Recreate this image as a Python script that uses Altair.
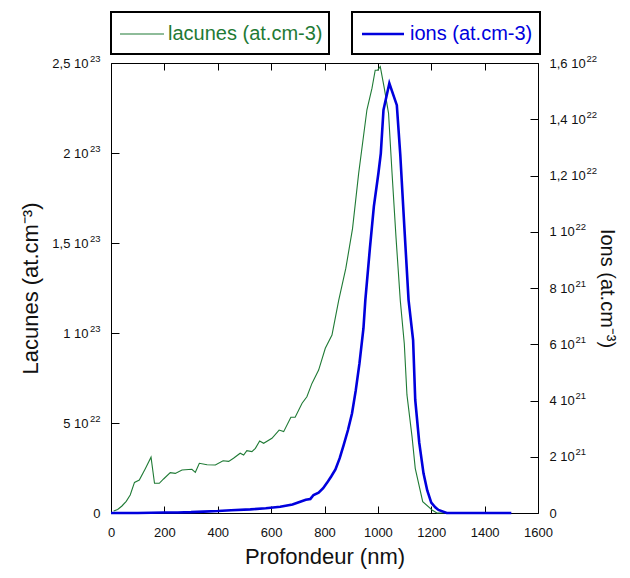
import altair as alt
import pandas as pd

# ---- data ----
# Lacunes (vacancies), unit 1e22 at/cm3
lac_x = [10, 25, 41, 57, 72, 88, 106, 128, 150, 163, 181, 197, 222, 241, 266, 303, 316, 331,
         360, 391, 420, 441, 459, 484, 497, 509, 528, 541, 557, 572, 603, 630, 647, 674, 690,
         716, 734, 753, 778, 803, 828, 853, 880, 905, 928, 959, 978, 990, 999, 1009, 1024,
         1040, 1053, 1068, 1084, 1099, 1109, 1128, 1140, 1168, 1203, 1221, 1250]
lac_v = [0.11, 0.2, 0.39, 0.65, 1.0, 1.7, 1.83, 2.45, 3.1, 1.65, 1.65, 1.89, 2.24, 2.2, 2.39,
         2.43, 2.26, 2.76, 2.68, 2.67, 2.9, 2.87, 3.04, 3.32, 3.22, 3.46, 3.41, 3.59, 4.0, 3.87,
         4.15, 4.61, 4.52, 5.32, 5.32, 6.1, 6.46, 7.2, 7.94, 9.15, 9.89, 11.8, 13.6, 15.8, 18.87,
         22.4, 23.6, 24.6, 24.6, 24.8, 23.6, 22.2, 18.9, 15.3, 11.8, 9.4, 6.56, 4.24, 2.48, 0.63,
         0.17, 0.0, 0.0]

# Ions, unit 1e21 at/cm3
ion_x = [0, 50, 100, 150, 200, 250, 300, 347, 400, 450, 522, 580, 634, 680, 709, 730, 747, 759,
         778, 795, 810, 825, 841, 857, 872, 888, 903, 917, 931, 946, 953, 970, 985, 1002, 1011,
         1021, 1043, 1071, 1084, 1099, 1115, 1132, 1140, 1155, 1171, 1185, 1200, 1215, 1227,
         1258, 1300, 1400, 1500]
ion_v = [0, 0, 0, 0.01, 0.02, 0.02, 0.03, 0.05, 0.07, 0.1, 0.13, 0.17, 0.22, 0.3, 0.4, 0.47,
         0.5, 0.64, 0.72, 0.88, 1.08, 1.3, 1.55, 1.95, 2.42, 2.95, 3.54, 4.35, 5.32, 6.57, 7.57,
         9.4, 10.9, 12.08, 12.79, 14.33, 15.28, 14.5, 12.73, 10.2, 7.57, 6.15, 4.02, 2.5, 1.41,
         0.8, 0.37, 0.2, 0.11, 0, 0, 0, 0]

x_ticks = [0, 200, 400, 600, 800, 1000, 1200, 1400, 1600]

left_ticks = [0, 5, 10, 15, 20, 25]
left_base = ["", "5 10", "1 10", "1,5 10", "2 10", "2,5 10"]
left_exps = ["0", "22", "23", "23", "23", "23"]

right_ticks = [0, 2, 4, 6, 8, 10, 12, 14, 16]
right_base = ["0", "2 10", "4 10", "6 10", "8 10", "1 10", "1,2 10", "1,4 10", "1,6 10"]
right_exps = ["", "21", "21", "21", "21", "22", "22", "22", "22"]
right_short = [2, 4, 6, 8, 10]   # ticks whose label mantissa has one digit
right_long = [12, 14, 16]        # ticks whose label mantissa is "1,x"

legend_names = ["lacunes (at.cm-3)", "ions (at.cm-3)"]

# ---- style ----
W, H = 427, 450
GREEN = "#1f7a35"
BLUE = "#0000dd"
FONT = "Liberation Sans"
TK = 8
LFS = 13     # tick label size
EFS = 9.5    # exponent size


def label_expr(labels, step):
    arr = "[" + ",".join("'" + s + "'" for s in labels) + "]"
    return f"{arr}[round(datum.value/{step})]"


xscale = alt.Scale(domain=[0, 1600], nice=False, zero=False)
lscale = alt.Scale(domain=[0, 25], nice=False)
rscale = alt.Scale(domain=[0, 16], nice=False)

df_l = pd.DataFrame({"x": lac_x, "v": lac_v})
df_i = pd.DataFrame({"x": ion_x, "v": ion_v})

green = alt.Chart(df_l).mark_line(color=GREEN, strokeWidth=1.1).encode(
    x=alt.X("x:Q", scale=xscale,
            axis=alt.Axis(orient="bottom", values=x_ticks, format="d", title="Profondeur (nm)",
                          offset=-7, tickSize=7, labelPadding=13, titlePadding=7,
                          labelFlush=False, labelOverlap=False)),
    y=alt.Y("v:Q", scale=lscale,
            axis=alt.Axis(orient="left", values=left_ticks, labelExpr=label_expr(left_base, 5),
                          title="Lacunes (at.cm\u207b\u00b3)", offset=-TK, tickSize=TK,
                          labelPadding=23, titlePadding=9, labelFlush=False, labelOverlap=False)),
)

blue = alt.Chart(df_i).mark_line(color=BLUE, strokeWidth=2.6).encode(
    x=alt.X("x:Q", scale=xscale,
            axis=alt.Axis(orient="top", values=x_ticks, title=None, labels=False,
                          offset=-7, tickSize=7)),
    y=alt.Y("v:Q", scale=rscale,
            axis=alt.Axis(orient="right", values=right_ticks, labelExpr=label_expr(right_base, 2),
                          title="Ions (at.cm\u207b\u00b3)", titleFontSize=20, offset=-TK, tickSize=TK,
                          labelPadding=11, titlePadding=11, labelFlush=False, labelOverlap=False)),
)

# exponent ("superscript") label axes
left_exp = alt.Chart(pd.DataFrame({"v": left_ticks})).mark_point(opacity=0).encode(
    y=alt.Y("v:Q", scale=lscale,
            axis=alt.Axis(orient="left", values=left_ticks, labelExpr=label_expr(left_exps, 5),
                          title=None, offset=-TK, tickSize=TK, tickOpacity=0, labelPadding=11,
                          labelFontSize={"condition": {"test": "datum.value === 0", "value": LFS},
                                         "value": EFS},
                          labelBaseline={"condition": {"test": "datum.value === 0", "value": "middle"},
                                         "value": "bottom"},
                          labelFlush=False, labelOverlap=False)),
)
right_exp_s = alt.Chart(pd.DataFrame({"v": right_short})).mark_point(opacity=0).encode(
    y=alt.Y("v:Q", scale=rscale,
            axis=alt.Axis(orient="right", values=right_short, labelExpr=label_expr(right_exps, 2),
                          title=None, offset=-TK, tickSize=TK, tickOpacity=0, labelPadding=37,
                          labelFontSize=EFS, labelBaseline="bottom",
                          labelFlush=False, labelOverlap=False)),
)
right_exp_l = alt.Chart(pd.DataFrame({"v": right_long})).mark_point(opacity=0).encode(
    y=alt.Y("v:Q", scale=rscale,
            axis=alt.Axis(orient="right", values=right_long, labelExpr=label_expr(right_exps, 2),
                          title=None, offset=-TK, tickSize=TK, tickOpacity=0, labelPadding=48,
                          labelFontSize=EFS, labelBaseline="bottom",
                          labelFlush=False, labelOverlap=False)),
)


def legend_item(i, x0, x1, lx0, lx1, tx, color, sw):
    d = pd.DataFrame({"name": [legend_names[i]]})
    box = alt.Chart(d).mark_rect(fillOpacity=0, stroke="black", strokeWidth=2).encode(
        x=alt.value(x0), x2=alt.value(x1), y=alt.value(-51), y2=alt.value(-9))
    line = alt.Chart(d).mark_rule(color=color, strokeWidth=sw).encode(
        x=alt.value(lx0), x2=alt.value(lx1), y=alt.value(-29))
    txt = alt.Chart(d).mark_text(align="left", baseline="middle", fontSize=20, font=FONT,
                                 color=color).encode(
        x=alt.value(tx), y=alt.value(-29), text="name:N")
    return [box, line, txt]


leg = legend_item(0, 0, 218, 9, 53, 57, GREEN, 1.2) + legend_item(1, 241, 429, 251, 293, 299, BLUE, 2.6)

chart = alt.layer(green, blue, left_exp, right_exp_s, right_exp_l, *leg).resolve_scale(
    y="independent"
).properties(
    width=W, height=H,
    padding={"left": 103, "top": 55, "right": 84, "bottom": 57},
    autosize=alt.AutoSizeParams(type="none"),
).configure_view(
    stroke="black", strokeWidth=1
).configure_axis(
    labelFont=FONT, titleFont=FONT, labelFontSize=LFS, titleFontSize=22,
    titleFontWeight="normal", labelColor="#111", titleColor="#111",
    domain=False, grid=False, tickColor="black"
)

chart.save("out.html", embed_options={"renderer": "svg", "actions": False})
